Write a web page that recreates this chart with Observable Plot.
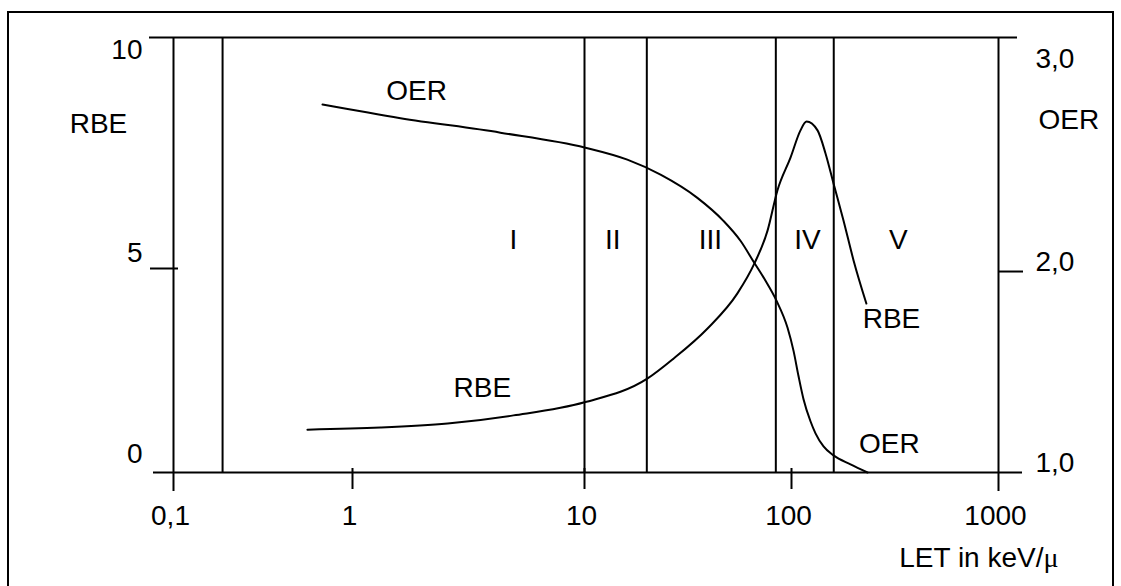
<!DOCTYPE html>
<html><head><meta charset="utf-8">
<script src="https://cdn.jsdelivr.net/npm/d3@7"></script>
<script src="https://cdn.jsdelivr.net/npm/@observablehq/plot@0.6"></script>
<style>
html,body{margin:0;padding:0;background:#fff;}
#wrap{position:relative;width:1121px;height:586px;overflow:hidden;}
#border{position:absolute;left:7px;top:11px;width:1103px;height:600px;border:2px solid #000;border-bottom:none;pointer-events:none;}
#chart{position:absolute;left:0;top:0;}
</style></head><body>
<div id="wrap"><div id="chart"></div><div id="border"></div></div>
<script>
// ---- data ----
const xTickValues = [0.1, 1, 10, 100, 1000];
const xTickLabels = ["0,1", "1", "10", "100", "1000"];
const rbeTickValues = [0, 5, 10];
const rbeTickLabels = ["0", "5", "10"];
const oerTickValues = [1, 2, 3];
const oerTickLabels = ["1,0", "2,0", "3,0"];

const regionBounds = [0.188, 10, 20, 84, 160];
const regionNames = ["I", "II", "III", "IV", "V"];
const regionCenters = [4.94, 13.7, 40.6, 119.5, 328.6];

const letOER = [0.68, 1.61, 4.34, 10.1, 16.1, 23.3, 35.1, 46.9, 56.8, 66.2, 74.8, 84.6, 95.7, 102.3, 108.1, 114.3, 123.5, 130.6, 142.8, 159.6, 192.8, 232.8];
const oerValues = [2.714, 2.656, 2.594, 2.530, 2.479, 2.415, 2.316, 2.218, 2.132, 2.038, 1.955, 1.855, 1.72, 1.605, 1.48, 1.365, 1.255, 1.195, 1.13, 1.085, 1.04, 1.0];

const letRBE = [0.56, 1.32, 2.57, 4.94, 10, 20.1, 26.9, 39.3, 54.8, 66.2, 76.6, 85.5, 98.9, 110.5, 118.2, 133.6, 146, 159.6, 178.3, 199.6, 230];
const rbeValues = [1.05, 1.10, 1.20, 1.40, 1.72, 2.30, 2.79, 3.53, 4.39, 5.11, 5.82, 6.69, 7.40, 7.99, 8.18, 7.99, 7.49, 6.84, 6.04, 5.17, 4.14];

// curve label positions (LET, value)
const oerCurveLabels = [
  {text: "OER", let: 1.89, oer: 2.77},
  {text: "OER", let: 297, oer: 1.14}
];
const rbeCurveLabels = [
  {text: "RBE", let: 3.63, rbe: 2.06},
  {text: "RBE", let: 304, rbe: 3.77}
];

// secondary (OER) axis mapped onto the RBE scale
const oerToRbe = d3.scaleLinear().domain(oerTickValues).range([0, 4.926, 10]);

const oerData = letOER.map((l, i) => ({let: l, y: oerToRbe(oerValues[i])}));
const rbeData = letRBE.map((l, i) => ({let: l, y: rbeValues[i]}));
const regions = regionNames.map((n, i) => ({name: n, let: regionCenters[i]}));
const xTicks = xTickValues.map((v, i) => ({v, label: xTickLabels[i]}));
const leftTicks = rbeTickValues.map((v, i) => ({v, label: rbeTickLabels[i]}));
const rightTicks = oerTickValues.map((v, i) => ({v: oerToRbe(v), label: oerTickLabels[i]}));

const FS = 28;
const K = {stroke: "#000", strokeWidth: 2};
const chart = Plot.plot({
  width: 1121,
  height: 586,
  margin: 0,
  style: {fontFamily: "'Liberation Sans', Arial, sans-serif", fontSize: "28px", background: "transparent", overflow: "visible"},
  x: {type: "log", domain: xTickValues, range: [173, 352, 584, 791, 998], axis: null},
  y: {type: "linear", domain: rbeTickValues, range: [472, 268, 37], axis: null},
  marks: [
    // frame lines
    Plot.ruleY([10], {x1: 0.1, x2: 1000, insetLeft: -24, insetRight: -19, ...K}),
    Plot.ruleY([0], {x1: 0.1, x2: 1000, insetLeft: -20, insetRight: -24, ...K}),
    Plot.ruleX([0.1, 1000], {y1: 10, y2: 0, insetBottom: -19, ...K}),
    // left tick at 5
    Plot.ruleY([5], {x1: 0.1, x2: 0.1, insetLeft: -23, insetRight: -5, ...K}),
    // right tick at OER 2,0
    Plot.ruleY([oerToRbe(2)], {x1: 1000, x2: 1000, insetLeft: 0, insetRight: -25, ...K}),
    // bottom ticks
    Plot.ruleX([1, 10, 100], {y1: 0, y2: 0, insetTop: -4, insetBottom: -17, ...K}),
    // region boundaries
    Plot.ruleX(regionBounds, {y1: 10, y2: 0, ...K}),
    // curves
    Plot.line(oerData, {x: "let", y: "y", curve: "monotone-x", ...K}),
    Plot.line(rbeData, {x: "let", y: "y", curve: "monotone-x", ...K}),
    // x tick labels
    Plot.text(xTicks, {x: "v", y: () => 0, text: "label", dy: 44, dx: -3, fontSize: FS, lineAnchor: "middle"}),
    // left tick labels
    Plot.text(leftTicks.filter(d => d.v === 10), {x: () => 0.1, y: "v", text: "label", textAnchor: "end", dx: -31, dy: 13, fontSize: FS, lineAnchor: "middle"}),
    Plot.text(leftTicks.filter(d => d.v === 5), {x: () => 0.1, y: "v", text: "label", textAnchor: "end", dx: -31, dy: -15, fontSize: FS, lineAnchor: "middle"}),
    Plot.text(leftTicks.filter(d => d.v === 0), {x: () => 0.1, y: "v", text: "label", textAnchor: "end", dx: -31, dy: -18, fontSize: FS, lineAnchor: "middle"}),
    // right tick labels
    Plot.text(rightTicks.filter(d => d.label === "3,0"), {x: () => 1000, y: "v", text: "label", textAnchor: "start", dx: 37, dy: 22, fontSize: FS, lineAnchor: "middle"}),
    Plot.text(rightTicks.filter(d => d.label !== "3,0"), {x: () => 1000, y: "v", text: "label", textAnchor: "start", dx: 37, dy: -9, fontSize: FS, lineAnchor: "middle"}),
    // axis titles
    Plot.text(["RBE"], {x: () => 0.1, y: () => 10, text: (d) => d, dx: -75, dy: 87, fontSize: FS, lineAnchor: "middle"}),
    Plot.text(["OER"], {x: () => 1000, y: () => 10, text: (d) => d, textAnchor: "start", dx: 40, dy: 83, fontSize: FS, lineAnchor: "middle"}),
    Plot.text(["LET in keV/"], {x: () => 1000, y: () => 0, text: (d) => d, textAnchor: "end", dx: 45, dy: 86, fontSize: FS, lineAnchor: "middle"}),
    Plot.text(["μ"], {x: () => 1000, y: () => 0, text: (d) => d, textAnchor: "start", dx: 45, dy: 86, fontSize: FS, lineAnchor: "middle", fontFamily: "'Liberation Serif', 'Times New Roman', serif"}),
    // region labels
    Plot.text(regions, {x: "let", y: () => 5, text: "name", dy: -28, fontSize: FS, lineAnchor: "middle"}),
    // curve labels
    Plot.text(oerCurveLabels, {x: "let", y: (d) => oerToRbe(d.oer), text: "text", fontSize: FS, lineAnchor: "middle"}),
    Plot.text(rbeCurveLabels, {x: "let", y: "rbe", text: "text", fontSize: FS, lineAnchor: "middle"})
  ]
});
document.getElementById("chart").appendChild(chart);
</script>
</body></html>
